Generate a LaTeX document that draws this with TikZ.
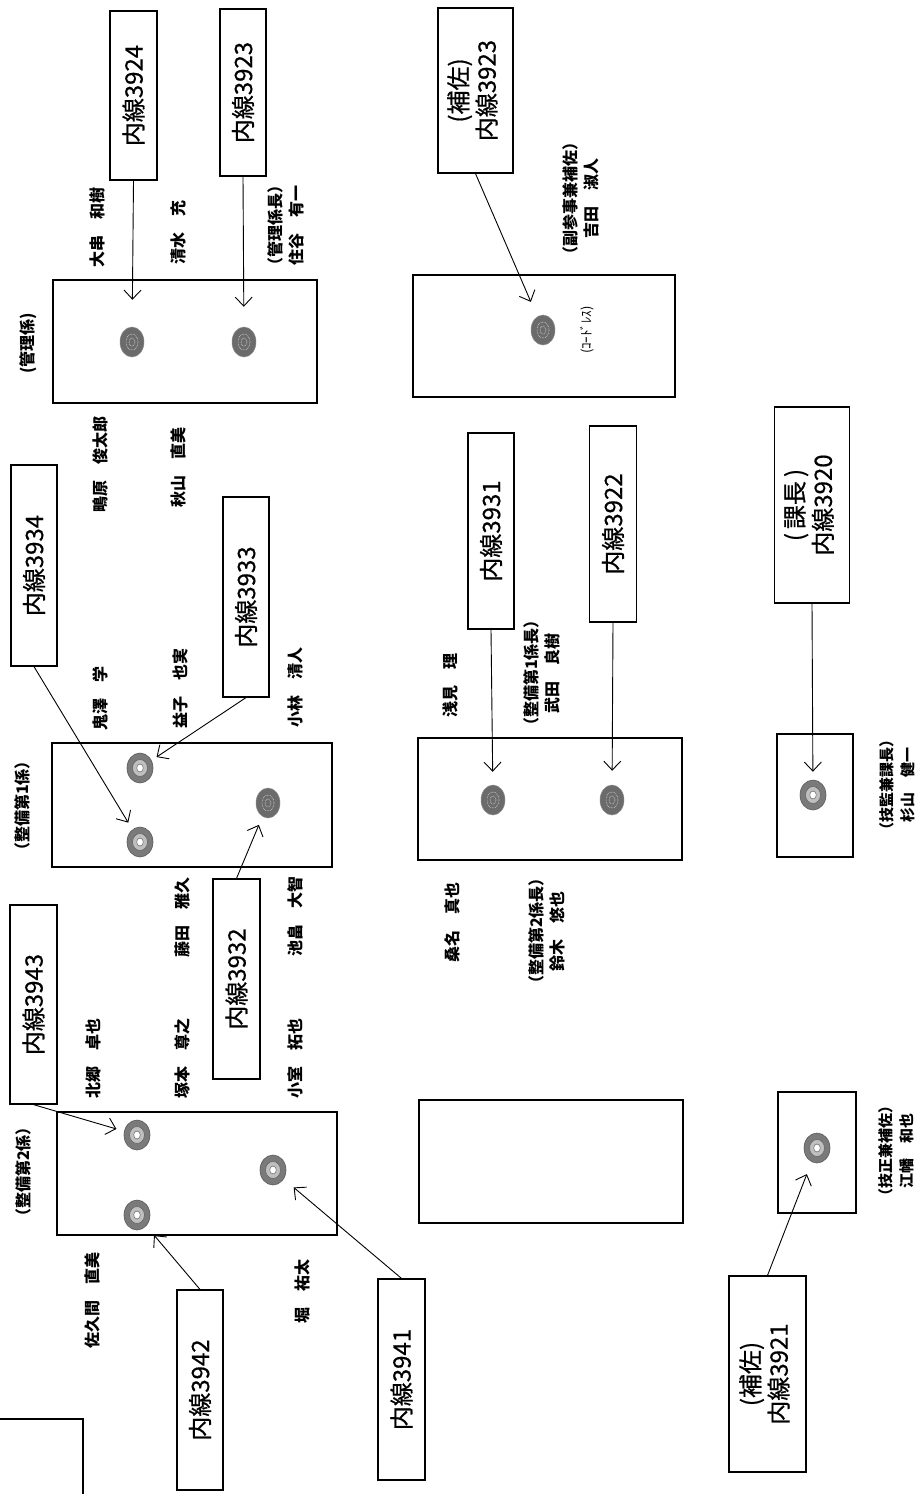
\documentclass[tikz,border=0pt]{standalone}
\usepackage{fontspec}
\usepackage{graphicx}
\setmainfont{Noto Sans CJK JP}
\newfontfamily\phonefont[FakeBold=0.6]{Noto Sans CJK JP}
\usetikzlibrary{arrows.meta,shapes.geometric}
\begin{document}
\begin{tikzpicture}[x=1pt,y=-1pt,
  phone/.style={draw, line width=1.2pt, inner sep=0pt, font=\phonefont\fontsize{24}{27}\selectfont},
  room/.style={draw, line width=1.2pt},
  nm/.style={rotate=90, inner sep=0pt, align=center, font=\fontsize{16}{21}\selectfont\bfseries},
  grp/.style={rotate=90, inner sep=0pt, align=center, font=\fontsize{16}{21}\selectfont\bfseries},
  arr/.style={-{Straight Barb[length=9pt,width=17pt]}, line width=0.9pt},
  rseat/.style={ellipse, minimum width=26pt, minimum height=30pt, inner sep=0pt,
    fill=black!52, draw=black!65, line width=0.6pt,
    path picture={
      \draw[fill=black!25, draw=black!60, line width=0.6pt] (path picture bounding box.center) ellipse [x radius=7.5pt, y radius=8.5pt];
      \draw[fill=white, draw=black!60, line width=0.5pt] (path picture bounding box.center) ellipse [x radius=3.3pt, y radius=4pt];}},
  fseat/.style={ellipse, minimum width=24pt, minimum height=30pt, inner sep=0pt,
    fill=black!58, draw=black!45, line width=0.5pt,
    path picture={
      \draw[white!75!gray, densely dotted, line width=0.6pt] (path picture bounding box.center) ellipse [x radius=6pt, y radius=8pt];
      \draw[white!75!gray, densely dotted, line width=0.6pt] (path picture bounding box.center) ellipse [x radius=3pt, y radius=4pt];}}
]
\useasboundingbox[fill=white] (0,0) rectangle (921,1494);

% ---------------- rooms ----------------
\draw[room] (53,280) rectangle (317,403);
\draw[room] (52,743) rectangle (332,867);
\draw[room] (57,1112) rectangle (337,1235);
\draw[room] (413,275) rectangle (675,397);
\draw[room] (418,738) rectangle (682,860);
\draw[room] (419,1100) rectangle (683,1223);
\draw[room] (777,734) rectangle (853,857);
\draw[room] (778,1092) rectangle (856,1213);
\draw[room] (0,1419) -- (83,1419) -- (83,1494);

% ---------------- seats ----------------
\node[fseat] (k1) at (132,342) {};
\node[fseat] (k2) at (244,342) {};
\node[fseat] (h1) at (543,330) {};
\node[rseat] (a1) at (140,768) {};
\node[rseat] (a2) at (140,842) {};
\node[fseat] (a3) at (268,803) {};
\node[rseat] (c1) at (137,1135) {};
\node[rseat] (c2) at (137,1215) {};
\node[rseat] (c3) at (273,1170) {};
\node[fseat] (m1) at (493,800) {};
\node[fseat] (m2) at (612,800) {};
\node[rseat] (d1) at (813,795) {};
\node[rseat] (d2) at (817,1148) {};

% ---------------- phone boxes ----------------
\node[phone, minimum width=47pt, minimum height=169pt] (p3924) at (133.5,95.5) {\rotatebox{90}{内線3924}};
\node[phone, minimum width=46pt, minimum height=167pt] (p3923) at (243,92.5) {\rotatebox{90}{内線3923}};
\node[phone, minimum width=75pt, minimum height=165pt] (p3923h) at (475.5,90.5) {\rotatebox{90}{\begin{tabular}{@{}c@{}}(補佐)\\内線3923\end{tabular}}};
\node[phone, minimum width=46pt, minimum height=201pt] (p3934) at (34,565.5) {\rotatebox{90}{内線3934}};
\node[phone, minimum width=46pt, minimum height=200pt] (p3933) at (246,597) {\rotatebox{90}{内線3933}};
\node[phone, minimum width=47pt, minimum height=200pt] (p3932) at (236.5,979) {\rotatebox{90}{内線3932}};
\node[phone, minimum width=47pt, minimum height=199pt] (p3943) at (33.5,1004.5) {\rotatebox{90}{内線3943}};
\node[phone, minimum width=46pt, minimum height=200pt] (p3942) at (200,1390) {\rotatebox{90}{内線3942}};
\node[phone, minimum width=47pt, minimum height=201pt] (p3941) at (401.5,1379.5) {\rotatebox{90}{内線3941}};
\node[phone, minimum width=46pt, minimum height=196pt] (p3931) at (491,531) {\rotatebox{90}{内線3931}};
\node[phone, minimum width=47pt, minimum height=196pt] (p3922) at (613,524) {\rotatebox{90}{内線3922}};
\node[phone, minimum width=75pt, minimum height=196pt] (p3920) at (812,505) {\rotatebox{90}{\begin{tabular}{@{}c@{}}(\,課長\,)\\内線3920\end{tabular}}};
\node[phone, minimum width=77pt, minimum height=196pt] (p3921) at (767.5,1374) {\rotatebox{90}{\begin{tabular}{@{}c@{}}(補佐)\\内線3921\end{tabular}}};

% ---------------- connectors ----------------
\draw[arr, shorten >=27pt] (p3924.south) -- (k1);
\draw[arr, shorten >=20pt] (p3923.south) -- (k2);
\draw[arr, shorten >=16pt] (p3923h.south) -- (h1);
\draw[arr, shorten >=8pt] (p3934.south) -- (a2);
\draw[arr, shorten >=6pt] (p3933.south) -- (a1);
\draw[arr, shorten >=9pt] (p3932.north) -- (a3);
\draw[arr, shorten >=8pt] (p3943.south) -- (c1);
\draw[arr, shorten >=12pt] (p3942.north) -- (c2);
\draw[arr, shorten >=13pt] (p3941.north) -- (c3);
\draw[arr, shorten >=13pt] (p3931.south) -- (m1);
\draw[arr, shorten >=14pt] (p3922.south) -- (m2);
\draw[arr, shorten >=8pt] (p3920.south) -- (d1);
\draw[arr, shorten >=13pt] (p3921.north) -- (d2);

% ---------------- labels ----------------
\node[grp] (g1) at (28,343) {(管理係)};
\node[nm] (n1) at (97,227) {大串　和樹};
\node[nm] (n2) at (178,232) {清水　充};
\node[nm] (n3) at (286,225) {（管理係長）\\住谷　有一};
\node[nm] (n4) at (581,198) {（副参事兼補佐）\\吉田　淑人};
\node[rotate=90, inner sep=0pt, font=\fontsize{13}{15}\selectfont] (n5) at (587,330) {(ｺｰﾄﾞﾚｽ)};

\node[nm] (n6) at (100,464) {鴫原　俊太郎};
\node[nm] (n7) at (178,467) {秋山　直美};
\node[nm] (n8) at (100,698) {鬼澤　学};
\node[nm] (n9) at (180,688) {益子　也実};
\node[nm] (n10) at (295,687) {小林　清人};
\node[grp] (g2) at (22,806) {（整備第1係）};
\node[nm] (n11) at (182,917) {藤田　雅久};
\node[nm] (n12) at (295,916) {池畠　大智};

\node[nm] (n13) at (93,1058) {北郷　卓也};
\node[nm] (n14) at (182,1058) {塚本　尊之};
\node[nm] (n15) at (295,1058) {小室　拓也};
\node[grp] (g3) at (23,1172) {（整備第2係）};
\node[nm] (n16) at (92,1300) {佐久間　直美};
\node[nm] (n17) at (302,1291) {堀　祐太};

\node[nm] (n18) at (450,685) {浅見　理};
\node[nm] (n19) at (542,673) {（整備第1係長）\\武田　良樹};
\node[nm] (n20) at (452,922) {桑名　真也};
\node[nm] (n21) at (547,931) {（整備第2係長）\\鈴木　悠也};

\node[nm, font=\fontsize{15}{21}\selectfont\bfseries] (n22) at (897,785) {（技監兼課長）\\杉山　健一};
\node[nm, font=\fontsize{15}{21}\selectfont\bfseries] (n23) at (896,1151) {（技正兼補佐）\\江幡　和也};
\end{tikzpicture}
\end{document}
